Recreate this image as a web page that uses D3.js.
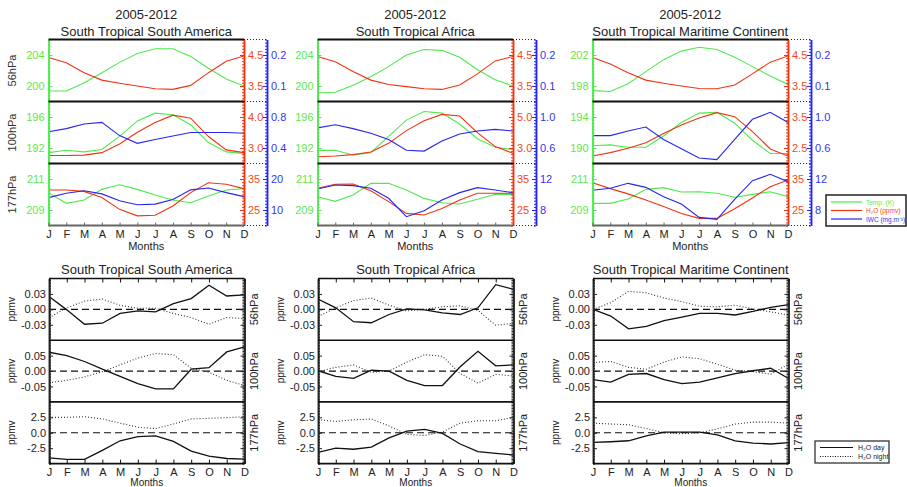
<!DOCTYPE html>
<html><head><meta charset="utf-8">
<script src="https://cdn.jsdelivr.net/npm/d3@7"></script>
<style>body{margin:0;background:#fff} svg{display:block;font-family:"Liberation Sans",Arial,Helvetica,sans-serif}</style>
</head><body><svg id="c" width="907" height="487"></svg>
<script>
// ---------- data ----------
const months = ["J","F","M","A","M","J","J","A","S","O","N","D"];
const regions = ["South Tropical South America","South Tropical Africa","South Tropical Maritime Continent"];
const period = "2005-2012";
const levels = ["56hPa","100hPa","177hPa"];

// Temperature (K), rows = 56, 100, 177 hPa
const tempSA = [[199.35,199.35,200.4,201.7,203.05,204.2,204.8,204.8,203.8,202.3,200.9,200.0],
                [191.4,191.7,191.5,191.8,193.5,195.5,196.5,196.3,195.0,192.7,191.5,191.3],
                [210.12,209.43,209.65,210.33,210.63,210.33,209.97,209.65,209.47,209.9,210.29,210.38]];
const tempAF = [[199.1,199.2,200.1,201.2,202.5,204.0,204.7,204.6,203.7,202.1,200.8,200.0],
                [191.7,191.7,191.1,191.4,193.5,195.6,196.7,196.5,195.1,193.2,192.1,191.8],
                [209.86,209.56,209.97,210.72,210.72,210.29,209.75,209.47,209.39,209.69,210.01,210.01]];
const tempMC = [[197.4,197.3,198.3,199.85,201.4,202.5,203.0,202.7,201.7,200.5,199.3,198.2],
                [190.3,190.4,190.1,190.1,191.55,193.3,194.5,194.6,193.2,191.0,189.3,189.3],
                [209.43,209.43,209.71,210.33,210.44,210.16,210.18,210.08,209.82,210.01,210.18,209.86]];
// H2O (ppmv)
const h2oSA = [[4.42,4.25,3.93,3.69,3.59,3.50,3.41,3.39,3.52,3.93,4.30,4.47],
               [2.76,2.76,2.77,2.85,3.13,3.51,3.82,4.06,3.96,3.37,2.94,2.85],
               [31.45,31.45,31.0,29.0,25.2,23.1,23.3,26.3,30.6,33.8,33.3,31.9]];
const h2oAF = [[4.45,4.28,3.97,3.69,3.55,3.48,3.41,3.39,3.53,3.89,4.31,4.45],
               [2.44,2.48,2.57,2.74,3.30,4.12,4.76,5.17,5.06,3.99,3.09,2.66],
               [32.0,33.3,33.4,31.2,27.7,23.9,23.4,25.5,28.2,30.4,30.4,30.4]];
const h2oMC = [[4.42,4.21,3.93,3.69,3.59,3.50,3.42,3.41,3.53,3.89,4.27,4.47],
               [2.24,2.35,2.49,2.67,2.97,3.24,3.47,3.64,3.51,3.03,2.47,2.24],
               [33.8,31.9,30.2,28.2,26.1,23.9,22.3,22.3,25.4,28.9,32.5,34.7]];
// IWC (mg.m-3), no line at 56 hPa
const iwcSA = [null,
               [0.61,0.65,0.71,0.73,0.56,0.46,0.51,0.555,0.60,0.60,0.60,0.59],
               [14.0,15.4,16.2,15.2,13.0,11.7,11.9,13.4,16.5,17.1,15.6,14.3]];
const iwcAF = [null,
               [0.86,0.90,0.85,0.79,0.71,0.57,0.56,0.69,0.78,0.82,0.84,0.82],
               [10.71,11.23,11.14,10.80,9.51,7.14,7.91,9.29,10.24,10.88,10.58,10.24]];
const iwcMC = [null,
               [0.76,0.76,0.82,0.87,0.71,0.59,0.47,0.45,0.71,0.97,1.06,0.93],
               [10.54,10.80,11.44,10.92,9.72,8.77,7.05,6.80,9.38,11.78,12.60,11.66]];

// Day / night H2O anomalies (ppmv)
const daySA = [[0.025,-0.001,-0.029,-0.027,-0.008,-0.003,-0.005,0.011,0.021,0.047,0.026,0.028],
               [0.061,0.050,0.031,0.006,-0.017,-0.041,-0.058,-0.058,0.006,0.011,0.062,0.078],
               [-4.06,-4.32,-4.32,-2.86,-1.30,-0.63,-0.52,-1.41,-2.97,-3.80,-4.17,-4.27]];
const nightSA = [[-0.016,0.003,0.016,0.020,0.008,0.002,0.002,-0.008,-0.016,-0.029,-0.016,-0.018],
                 [-0.038,-0.030,-0.019,-0.002,0.020,0.042,0.057,0.053,0.009,-0.004,-0.030,-0.047],
                 [2.5,2.5,2.6,2.24,1.56,0.89,0.68,1.41,2.24,2.34,2.45,2.6]];
const dayAF = [[0.020,0.003,-0.024,-0.026,-0.010,0.001,-0.001,-0.007,-0.010,0.003,0.048,0.039],
               [0.001,-0.017,-0.024,0.003,0.000,-0.030,-0.047,-0.047,0.014,0.064,0.017,0.020],
               [-3.17,-2.5,-2.67,-2.33,-0.83,0.28,0.56,-0.11,-1.83,-3.06,-3.33,-3.61]];
const nightAF = [[-0.014,0.003,0.017,0.022,0.008,-0.003,0.000,0.005,0.007,-0.002,-0.031,-0.027],
                 [-0.002,0.012,0.020,-0.004,0.000,0.029,0.053,0.048,-0.008,-0.039,-0.011,-0.016],
                 [2.11,1.83,2.11,2.22,1.11,-0.28,-0.44,0.11,1.56,1.94,1.94,2.5]];
const dayMC = [[0.0,-0.013,-0.038,-0.033,-0.022,-0.015,-0.008,-0.008,-0.011,-0.004,0.004,0.009],
               [-0.028,-0.036,-0.011,-0.008,-0.028,-0.041,-0.036,-0.022,-0.008,0.001,0.009,-0.024],
               [-1.56,-1.46,-1.30,-0.52,0.10,0.10,0.10,-0.36,-1.30,-1.67,-1.82,-1.61]];
const nightMC = [[0,0.013,0.035,0.032,0.022,0.015,0.006,0.005,0.008,0.001,-0.005,-0.011],
                 [0.028,0.031,0.012,0.006,0.029,0.046,0.040,0.022,0.003,-0.002,-0.010,0.022],
                 [1.56,1.41,1.30,0.68,0.0,-0.16,0.0,0.63,1.41,1.72,1.72,1.56]];

// axis ranges and tick labels
const tempDom = [[[198,206],[190,198],[208,212]],[[198,206],[190,198],[208,212]],[[196,204],[188,196],[208,212]]];
const tempTicks = [[[200,204],[192,196],[209,211]],[[200,204],[192,196],[209,211]],[[198,202],[190,194],[209,211]]];
const h2oDom = [[[3,5],[2.5,4.5],[20,40]],[[3,5],[2,6],[20,40]],[[3,5],[2,4],[20,40]]];
const h2oTicks = [[[3.5,4.5],[3.0,4.0],[25,35]],[[3.5,4.5],[3.0,5.0],[25,35]],[[3.5,4.5],[2.5,3.5],[25,35]]];
const iwcDom = [[[0.05,0.25],[0.2,1.0],[5,25]],[[0.05,0.25],[0.4,1.2],[6,14]],[[0.05,0.25],[0.4,1.2],[6,14]]];
const iwcTicks = [[[0.1,0.2],[0.4,0.8],[10,20]],[[0.1,0.2],[0.6,1.0],[8,12]],[[0.1,0.2],[0.6,1.0],[8,12]]];
const anomDom = [[-0.06,0.06],[-0.1,0.1],[-5,5]];
const anomTicks = [[-0.03,0,0.03],[-0.05,0,0.05],[-2.5,0,2.5]];
const legendTop = ["Temp. (K)","H\u2082O (ppmv)","IWC (mg.m\u207B\u00B3)"];
const legendBot = ["H\u2082O day","H\u2082O night"];

const temps=[tempSA,tempAF,tempMC], h2os=[h2oSA,h2oAF,h2oMC], iwcs=[iwcSA,iwcAF,iwcMC];
const days=[daySA,dayAF,dayMC], nights=[nightSA,nightAF,nightMC];

// ---------- styles / layout ----------
const GREEN="#4eea4e", GREENT="#5ee84a", RED="#f2330f", REDT="#f24a25", BLUE="#2626ee", BLUET="#3535f0";
const lefts=[48.5,317.5,592.5], PW=195.5;
const topY=39.5, TH=62;
const botY=278.5, BH=61.7;
const svg=d3.select("#c");
const defs=svg.append("defs");
let clipId=0;
function clip(x,y,w,h){const id="cl"+(clipId++);defs.append("clipPath").attr("id",id).append("rect").attr("x",x).attr("y",y).attr("width",w).attr("height",h);return "url(#"+id+")";}
function fmtF(p){const f=d3.format("."+p+"f");return d=>f(d).replace("\u2212","-");}
function minors(dom,ticks,n){const step=(ticks[1]-ticks[0])/n;const out=[];const s=Math.ceil((dom[0]-ticks[0])/step-1e-6);for(let k=s;ticks[0]+k*step<=dom[1]+1e-9;k++)out.push(ticks[0]+k*step);return out;}
function styleAxis(g,color,tcolor,size){g.select(".domain").attr("stroke",color).attr("stroke-width",1.5);g.selectAll(".tick line").attr("stroke",color).attr("stroke-width",1);g.selectAll("text").attr("fill",tcolor).attr("font-size",size).attr("font-family","Liberation Sans, Arial, sans-serif");}

// ---------- top panels ----------
for(let r=0;r<3;r++){
  const x0=lefts[r], x1=x0+PW, xb=x1+23;
  const x=d3.scaleLinear().domain([0,11]).range([x0,x1]);
  const cx=x0+PW/2;
  svg.append("text").attr("x",cx).attr("y",19).attr("text-anchor","middle").attr("font-size",13).attr("fill","#222").text(period);
  svg.append("text").attr("x",cx).attr("y",36).attr("text-anchor","middle").attr("font-size",13).attr("fill","#222").text(regions[r]);
  for(let l=0;l<3;l++){
    const y0=topY+l*TH, y1=y0+TH;
    const yT=d3.scaleLinear().domain(tempDom[r][l]).range([y1,y0]);
    const yH=d3.scaleLinear().domain(h2oDom[r][l]).range([y1,y0]);
    const yI=d3.scaleLinear().domain(iwcDom[r][l]).range([y1,y0]);
    const cp=clip(x0,y0,PW,TH);
    const g=svg.append("g").attr("clip-path",cp);
    g.append("path").attr("d",d3.line().x((d,i)=>x(i)).y(d=>yT(d))(temps[r][l])).attr("fill","none").attr("stroke",GREEN).attr("stroke-width",1.1);
    g.append("path").attr("d",d3.line().x((d,i)=>x(i)).y(d=>yH(d))(h2os[r][l])).attr("fill","none").attr("stroke",RED).attr("stroke-width",1.1);
    if(iwcs[r][l]) g.append("path").attr("d",d3.line().x((d,i)=>x(i)).y(d=>yI(d))(iwcs[r][l])).attr("fill","none").attr("stroke",BLUE).attr("stroke-width",1.1);
    const isInt = l===2;
    const gm=svg.append("g").attr("transform",`translate(${x0},0)`).call(d3.axisLeft(yT).tickValues(minors(tempDom[r][l],tempTicks[r][l],10)).tickSizeInner(-2).tickSizeOuter(0).tickFormat(""));
    styleAxis(gm,GREEN,GREENT,11);
    const ga=svg.append("g").attr("transform",`translate(${x0},0)`).call(d3.axisLeft(yT).tickValues(tempTicks[r][l]).tickSizeInner(-4).tickSizeOuter(0).tickPadding(4).tickFormat(d3.format("d")));
    styleAxis(ga,GREEN,GREENT,11);
    const rm=svg.append("g").attr("transform",`translate(${x1},0)`).call(d3.axisRight(yH).tickValues(minors(h2oDom[r][l],h2oTicks[r][l],10)).tickSizeInner(-2).tickSizeOuter(0).tickFormat(""));
    styleAxis(rm,RED,REDT,11);
    const ra=svg.append("g").attr("transform",`translate(${x1},0)`).call(d3.axisRight(yH).tickValues(h2oTicks[r][l]).tickSizeInner(-4).tickSizeOuter(0).tickPadding(4).tickFormat(isInt?d3.format("d"):fmtF(1)));
    styleAxis(ra,RED,REDT,11);
    const bm=svg.append("g").attr("transform",`translate(${xb},0)`).call(d3.axisRight(yI).tickValues(minors(iwcDom[r][l],iwcTicks[r][l],10)).tickSizeInner(-2).tickSizeOuter(0).tickFormat(""));
    styleAxis(bm,BLUE,BLUET,11);
    const ba=svg.append("g").attr("transform",`translate(${xb},0)`).call(d3.axisRight(yI).tickValues(iwcTicks[r][l]).tickSizeInner(-4).tickSizeOuter(0).tickPadding(4).tickFormat(isInt?d3.format("d"):fmtF(1)));
    styleAxis(ba,BLUE,BLUET,11);
    [y0,y1].forEach(yy=>svg.append("line").attr("x1",x1).attr("x2",xb).attr("y1",yy).attr("y2",yy).attr("stroke","#222").attr("stroke-width",1.2).attr("stroke-dasharray","1,2"));
    svg.append("line").attr("x1",x0).attr("x2",x1).attr("y1",y0).attr("y2",y0).attr("stroke","#111").attr("stroke-width",1.8);
    if(r===0) svg.append("text").attr("transform",`translate(${x0-33},${(y0+y1)/2}) rotate(-90)`).attr("text-anchor","middle").attr("font-size",11).attr("fill","#333").text(levels[l]);
  }
  const yb=topY+3*TH;
  svg.append("line").attr("x1",x0).attr("x2",x1).attr("y1",yb).attr("y2",yb).attr("stroke","#666").attr("stroke-width",1.8);
  const xa=svg.append("g").attr("transform",`translate(0,${yb})`).call(d3.axisBottom(x).tickValues(d3.range(12)).tickFormat(i=>months[i]).tickSizeInner(-3).tickSizeOuter(0).tickPadding(5));
  xa.select(".domain").remove();
  xa.selectAll(".tick line").attr("stroke","#666");
  xa.selectAll("text").attr("font-size",11).attr("fill","#222").attr("font-family","Liberation Sans, Arial, sans-serif");
  svg.append("text").attr("x",cx).attr("y",250).attr("text-anchor","middle").attr("font-size",11).attr("fill","#222").text("Months");
}

// top legend
{
  const lx=826, ly=195;
  svg.append("rect").attr("x",lx).attr("y",ly).attr("width",80).attr("height",31).attr("fill","#fff").attr("stroke","#222").attr("stroke-width",1.5);
  [GREEN,RED,BLUE].forEach((c,i)=>{
    const yy=ly+7+i*8.5;
    svg.append("line").attr("x1",lx+5).attr("x2",lx+36).attr("y1",yy).attr("y2",yy).attr("stroke",c).attr("stroke-width",1.2);
    svg.append("text").attr("x",lx+40).attr("y",yy+2.5).attr("font-size",6.5).attr("fill",[GREENT,REDT,BLUET][i]).text(legendTop[i]);
  });
}

// ---------- bottom panels ----------
for(let r=0;r<3;r++){
  const x0=lefts[r]+0.5, x1=x0+PW;
  const x=d3.scaleLinear().domain([0,11]).range([x0,x1]);
  const cx=x0+PW/2;
  svg.append("text").attr("x",cx).attr("y",274).attr("text-anchor","middle").attr("font-size",13).attr("fill","#222").text(regions[r]);
  for(let l=0;l<3;l++){
    const y0=botY+l*BH, y1=y0+BH;
    const y=d3.scaleLinear().domain(anomDom[l]).range([y1,y0]);
    const cp=clip(x0,y0,PW,BH);
    const g=svg.append("g").attr("clip-path",cp);
    g.append("line").attr("x1",x0).attr("x2",x1).attr("y1",y(0)).attr("y2",y(0)).attr("stroke","#111").attr("stroke-width",1.2).attr("stroke-dasharray","7,4");
    g.append("path").attr("d",d3.line().x((d,i)=>x(i)).y(d=>y(d))(nights[r][l])).attr("fill","none").attr("stroke","#333").attr("stroke-width",1.1).attr("stroke-dasharray","1,2");
    g.append("path").attr("d",d3.line().x((d,i)=>x(i)).y(d=>y(d))(days[r][l])).attr("fill","none").attr("stroke","#111").attr("stroke-width",1.3);
    const fm=fmtF(l===2?1:2);
    const lm=svg.append("g").attr("transform",`translate(${x0},0)`).call(d3.axisLeft(y).tickValues(minors(anomDom[l],[anomTicks[l][0],anomTicks[l][1]],10)).tickSizeInner(-2).tickSizeOuter(0).tickFormat(""));
    styleAxis(lm,"#222","#222",11);
    const la=svg.append("g").attr("transform",`translate(${x0},0)`).call(d3.axisLeft(y).tickValues(anomTicks[l]).tickSizeInner(-4).tickSizeOuter(0).tickPadding(3).tickFormat(fm));
    styleAxis(la,"#222","#222",11);
    const rm=svg.append("g").attr("transform",`translate(${x1},0)`).call(d3.axisRight(y).tickValues(minors(anomDom[l],[anomTicks[l][0],anomTicks[l][1]],10)).tickSizeInner(-2).tickSizeOuter(0).tickFormat(""));
    styleAxis(rm,"#222","#222",11);
    const ra=svg.append("g").attr("transform",`translate(${x1},0)`).call(d3.axisRight(y).tickValues(anomTicks[l]).tickSizeInner(-4).tickSizeOuter(0).tickFormat(""));
    styleAxis(ra,"#222","#222",11);
    svg.append("line").attr("x1",x0).attr("x2",x1).attr("y1",y0).attr("y2",y0).attr("stroke","#111").attr("stroke-width",1.6);
    svg.append("text").attr("transform",`translate(${x0-34},${(y0+y1)/2}) rotate(-90)`).attr("text-anchor","middle").attr("font-size",10).attr("fill","#222").text("ppmv");
    svg.append("text").attr("transform",`translate(${x1+13},${(y0+y1)/2}) rotate(-90)`).attr("text-anchor","middle").attr("font-size",11).attr("fill","#222").text(levels[l]);
  }
  const yb=botY+3*BH;
  svg.append("line").attr("x1",x0).attr("x2",x1).attr("y1",yb).attr("y2",yb).attr("stroke","#111").attr("stroke-width",1.6);
  const xt=svg.append("g").attr("transform",`translate(0,${botY})`).call(d3.axisTop(x).tickValues(d3.range(12)).tickFormat("").tickSizeInner(-4).tickSizeOuter(0));
  xt.select(".domain").remove(); xt.selectAll(".tick line").attr("stroke","#111");
  const xa=svg.append("g").attr("transform",`translate(0,${yb})`).call(d3.axisBottom(x).tickValues(d3.range(12)).tickFormat(i=>months[i]).tickSizeInner(-4).tickSizeOuter(0).tickPadding(5));
  xa.select(".domain").remove();
  xa.selectAll(".tick line").attr("stroke","#111");
  xa.selectAll("text").attr("font-size",11).attr("fill","#222").attr("font-family","Liberation Sans, Arial, sans-serif");
  svg.append("text").attr("x",cx).attr("y",486).attr("text-anchor","middle").attr("font-size",10).attr("fill","#222").text("Months");
}

// bottom legend
{
  const lx=815, ly=441;
  svg.append("rect").attr("x",lx).attr("y",ly).attr("width",74).attr("height",22).attr("fill","#fff").attr("stroke","#222").attr("stroke-width",1.2);
  ["none","1,1.5"].forEach((da,i)=>{
    const yy=ly+6.5+i*9;
    svg.append("line").attr("x1",lx+5).attr("x2",lx+38).attr("y1",yy).attr("y2",yy).attr("stroke","#111").attr("stroke-width",1).attr("stroke-dasharray",da);
    svg.append("text").attr("x",lx+43).attr("y",yy+2.5).attr("font-size",7).attr("fill","#222").text(legendBot[i]);
  });
}
</script></body></html>
